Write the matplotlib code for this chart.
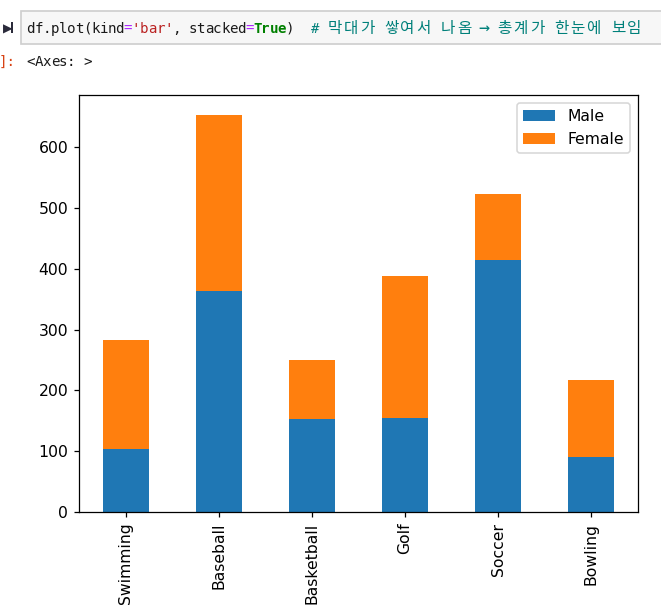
import matplotlib.pyplot as plt
import matplotlib.patches as mpatches
import pandas as pd

# data
sports = ['Swimming', 'Baseball', 'Basketball', 'Golf', 'Soccer', 'Bowling']
male = [104, 363, 153, 154, 414, 90]
female = [178, 290, 96, 234, 109, 127]

W, H = 661, 611
DPI = 112.5
fig = plt.figure(figsize=(W / DPI, H / DPI), dpi=DPI)

# px -> figure fraction
def fx(x):
    return x / W

def fy(y):
    return 1 - y / H

# notebook cell box
fig.patches.append(mpatches.Rectangle((fx(20.5), fy(44)), fx(W) - fx(20.5) + 0.01, fy(10.7) - fy(44),
                                      transform=fig.transFigure, facecolor='#f7f7f7',
                                      edgecolor='#cfcfcf', linewidth=1.1))
# run marker
fig.text(fx(3), fy(33), '\u25b6', fontsize=8, color='#2b2b3b', family='DejaVu Sans', va='baseline')
fig.patches.append(mpatches.Rectangle((fx(11), fy(33)), fx(2.2), fy(22) - fy(33),
                                      transform=fig.transFigure, facecolor='#2b2b3b', edgecolor='none'))

cw = 8.1  # px per mono column
mono_size = cw / 0.602 / DPI * 72 * 1.05


def draw_code(x0, ybase, parts):
    col = 0
    for text, color, weight, style in parts:
        for ch in text:
            if ord(ch) >= 0x1100 and ch != '\u2192':
                fig.text(fx(x0 + (col + 1) * cw), fy(ybase), ch, color=color, fontsize=10,
                         family=['Noto Sans CJK KR'], ha='center', va='baseline')
                col += 2
            else:
                if ch != ' ':
                    fig.text(fx(x0 + (col + 0.5) * cw), fy(ybase), ch, color=color,
                             fontsize=mono_size * (1.3 if ch == '\u2192' else 1),
                             family=['DejaVu Sans Mono'], weight=weight, style=style,
                             ha='center', va='baseline')
                col += 1


draw_code(26.7, 33, [
    ('df.plot(kind', '#1a1a1a', 'normal', 'normal'),
    ('=', '#aa22ff', 'normal', 'normal'),
    ("'bar'", '#ba2121', 'normal', 'normal'),
    (', stacked', '#1a1a1a', 'normal', 'normal'),
    ('=', '#aa22ff', 'normal', 'normal'),
    ('True', '#008000', 'bold', 'normal'),
    (')  ', '#1a1a1a', 'normal', 'normal'),
    ('# 막대가 쌓여서 나옴 \u2192 총계가 한눈에 보임', '#00807a', 'normal', 'italic'),
])
draw_code(26.7, 66, [('<Axes: >', '#1a1a1a', 'normal', 'normal')])
fig.text(fx(-1), fy(66), ']:', color='#d84315', fontsize=mono_size, family='DejaVu Sans Mono', va='baseline')

# chart
df = pd.DataFrame({'Male': male, 'Female': female}, index=sports)
ax = fig.add_axes([fx(79.3), fy(511.7), fx(637.7) - fx(79.3), fy(95.3) - fy(511.7)])
df.plot(kind='bar', stacked=True, ax=ax)

fig.savefig('out.png', dpi=DPI)
